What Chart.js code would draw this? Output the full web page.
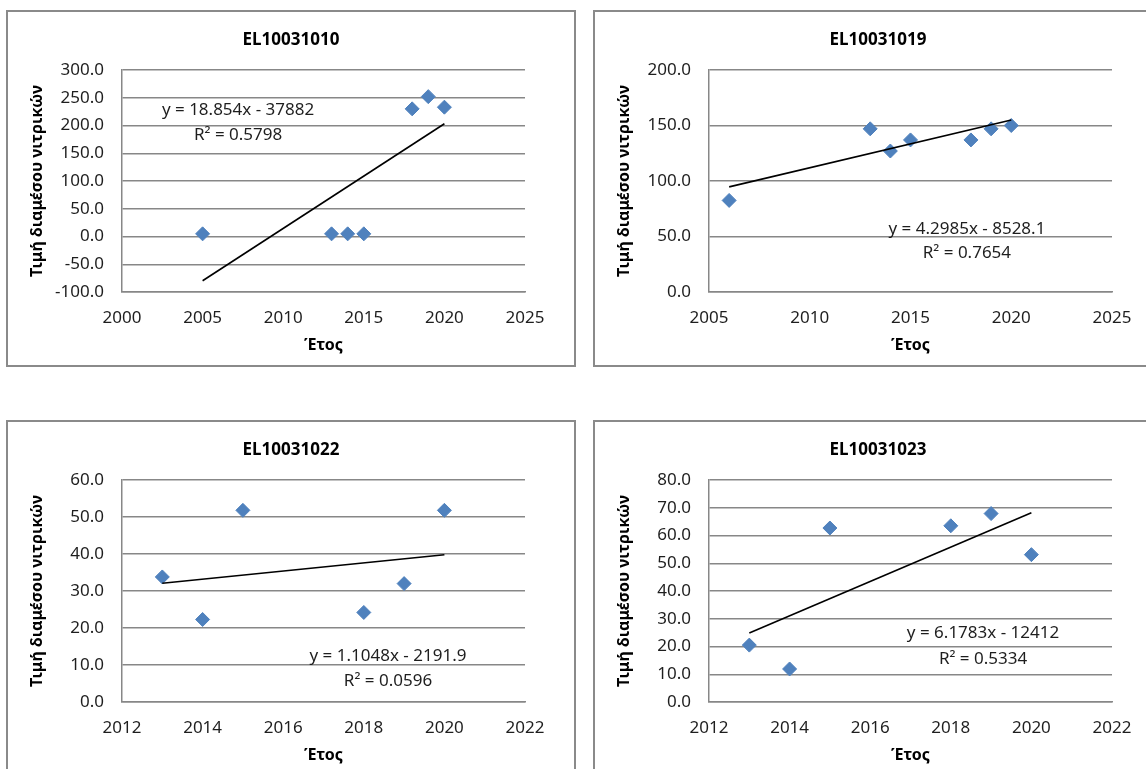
<!DOCTYPE html>
<html lang="el">
<head>
<meta charset="utf-8">
<title>Τιμή διαμέσου νιτρικών</title>
<script src="https://cdn.jsdelivr.net/npm/chart.js@4.4.1/dist/chart.umd.min.js"></script>
<style>
    html, body { margin: 0; padding: 0; background: #fff; overflow: hidden; }
    body { width: 1146px; height: 769px; position: relative; }
    .box {
        position: absolute;
        width: 570px;
        height: 357px;
        box-sizing: border-box;
        border: 2px solid #8a8a8a;
        background: #fff;
    }
    .box canvas { position: absolute; left: 0; top: 0; }
</style>
</head>
<body>
<div class="box" style="left:6px; top:10px;"><canvas id="chart-1010" width="566" height="353"></canvas></div>
<div class="box" style="left:593px; top:10px;"><canvas id="chart-1019" width="566" height="353"></canvas></div>
<div class="box" style="left:6px; top:420px;"><canvas id="chart-1022" width="566" height="353"></canvas></div>
<div class="box" style="left:593px; top:420px;"><canvas id="chart-1023" width="566" height="353"></canvas></div>

<script>
// Data
const years1010 = [2005, 2013, 2014, 2015, 2018, 2019, 2020];
const values1010 = [4.8, 4.8, 4.8, 4.8, 230, 252, 233];
const trendYears1010 = [2005, 2020];
const trendValues1010 = [-79.7, 203.1];
const xTicks1010 = [2000, 2005, 2010, 2015, 2020, 2025];
const yTicks1010 = [-100, -50, 0, 50, 100, 150, 200, 250, 300];
const equation1010 = ['y = 18.854x - 37882', 'R² = 0.5798'];

const years1019 = [2006, 2013, 2014, 2015, 2018, 2019, 2020];
const values1019 = [82.5, 147, 127, 137, 137, 147, 150];
const trendYears1019 = [2006, 2020];
const trendValues1019 = [94.7, 154.9];
const xTicks1019 = [2005, 2010, 2015, 2020, 2025];
const yTicks1019 = [0, 50, 100, 150, 200];
const equation1019 = ['y = 4.2985x - 8528.1', 'R² = 0.7654'];

const years1022 = [2013, 2014, 2015, 2018, 2019, 2020];
const values1022 = [33.8, 22.3, 51.8, 24.2, 32.0, 51.8];
const trendYears1022 = [2013, 2020];
const trendValues1022 = [32.1, 39.8];
const xTicks1022 = [2012, 2014, 2016, 2018, 2020, 2022];
const yTicks1022 = [0, 10, 20, 30, 40, 50, 60];
const equation1022 = ['y = 1.1048x - 2191.9', 'R² = 0.0596'];

const years1023 = [2013, 2014, 2015, 2018, 2019, 2020];
const values1023 = [20.5, 11.9, 62.7, 63.5, 67.9, 53.1];
const trendYears1023 = [2013, 2020];
const trendValues1023 = [24.9, 68.2];
const xTicks1023 = [2012, 2014, 2016, 2018, 2020, 2022];
const yTicks1023 = [0, 10, 20, 30, 40, 50, 60, 70, 80];
const equation1023 = ['y = 6.1783x - 12412', 'R² = 0.5334'];

const xTitle = 'Έτος';
const yTitle = 'Τιμή διαμέσου νιτρικών';

// Styling
const FONT = "'Noto Sans', 'DejaVu Sans', sans-serif";
const TEXT_COLOR = '#1e1e1e';
const GRID_COLOR = '#878787';
const MARKER_COLOR = '#4f81bd';

Chart.defaults.font.family = FONT;
Chart.defaults.color = TEXT_COLOR;

function toPoints(xs, ys) {
    return xs.map((x, i) => ({ x: x, y: ys[i] }));
}

// Chart title centred on the whole box (the plot area sits off-centre)
const boxTitle = {
    id: 'boxTitle',
    afterDraw(chart, args, opts) {
        const ctx = chart.ctx;
        ctx.save();
        ctx.font = 'bold 17px ' + FONT;
        ctx.fillStyle = '#000';
        ctx.textAlign = 'center';
        ctx.textBaseline = 'middle';
        ctx.fillText(opts.text, chart.width / 2, 28);
        ctx.restore();
    }
};

// Draws the trendline equation and R² at a place given in data units
const equationLabel = {
    id: 'equationLabel',
    afterDatasetsDraw(chart, args, opts) {
        if (!opts.lines) return;
        const ctx = chart.ctx;
        const x = chart.scales.x.getPixelForValue(opts.x);
        ctx.save();
        ctx.font = '17px ' + FONT;
        ctx.fillStyle = TEXT_COLOR;
        ctx.textAlign = 'center';
        ctx.textBaseline = 'middle';
        opts.lines.forEach((line, i) => {
            ctx.fillText(line, x, chart.scales.y.getPixelForValue(opts.y[i]));
        });
        ctx.restore();
    }
};

function makeChart(id, s) {
    const ctx = document.getElementById(id).getContext('2d');
    return new Chart(ctx, {
        type: 'scatter',
        data: {
            datasets: [{
                type: 'line',
                data: toPoints(s.trendYears, s.trendValues),
                borderColor: '#000',
                borderWidth: 1.6,
                pointRadius: 0,
                fill: false
            }, {
                data: toPoints(s.years, s.values),
                pointStyle: 'rectRot',
                pointRadius: 7,
                backgroundColor: MARKER_COLOR,
                borderColor: MARKER_COLOR,
                borderWidth: 1
            }]
        },
        options: {
            responsive: false,
            animation: false,
            devicePixelRatio: 1,
            layout: { padding: { left: 0, right: 49, top: 58, bottom: 3 } },
            plugins: {
                legend: { display: false },
                tooltip: { enabled: false },
                title: { display: false },
                boxTitle: { text: s.title },
                equationLabel: { lines: s.equation, x: s.labelX, y: s.labelY }
            },
            scales: {
                x: {
                    type: 'linear',
                    min: s.xTicks[0],
                    max: s.xTicks[s.xTicks.length - 1],
                    afterBuildTicks: scale => { scale.ticks = s.xTicks.map(v => ({ value: v })); },
                    afterFit: scale => { scale.height = 70; },
                    grid: { display: false, drawTicks: false },
                    border: { display: true, color: GRID_COLOR, width: 1.5 },
                    ticks: {
                        padding: 16,
                        maxRotation: 0,
                        autoSkip: false,
                        font: { size: 17 },
                        color: TEXT_COLOR,
                        callback: v => String(v)
                    },
                    title: {
                        display: true,
                        text: xTitle,
                        color: '#000',
                        font: { size: 16, weight: 'bold' },
                        padding: { top: 0, bottom: 7 }
                    }
                },
                y: {
                    type: 'linear',
                    min: s.yTicks[0],
                    max: s.yTicks[s.yTicks.length - 1],
                    afterBuildTicks: scale => { scale.ticks = s.yTicks.map(v => ({ value: v })); },
                    afterFit: scale => { scale.width = 114; },
                    grid: { color: GRID_COLOR, lineWidth: 1.5, drawTicks: false },
                    border: { display: true, color: GRID_COLOR, width: 1.5 },
                    ticks: {
                        padding: 18,
                        font: { size: 17 },
                        color: TEXT_COLOR,
                        callback: v => v.toFixed(1)
                    },
                    title: {
                        display: true,
                        text: yTitle,
                        color: '#000',
                        font: { size: 16, weight: 'bold' },
                        padding: { top: 20 }
                    }
                }
            }
        },
        plugins: [equationLabel, boxTitle]
    });
}

function initCharts() {
    makeChart('chart-1010', {
        title: 'EL10031010',
        years: years1010, values: values1010,
        trendYears: trendYears1010, trendValues: trendValues1010,
        xTicks: xTicks1010, yTicks: yTicks1010,
        equation: equation1010, labelX: 2007.2, labelY: [227, 183]
    });
    makeChart('chart-1019', {
        title: 'EL10031019',
        years: years1019, values: values1019,
        trendYears: trendYears1019, trendValues: trendValues1019,
        xTicks: xTicks1019, yTicks: yTicks1019,
        equation: equation1019, labelX: 2017.8, labelY: [56.8, 35.1]
    });
    makeChart('chart-1022', {
        title: 'EL10031022',
        years: years1022, values: values1022,
        trendYears: trendYears1022, trendValues: trendValues1022,
        xTicks: xTicks1022, yTicks: yTicks1022,
        equation: equation1022, labelX: 2018.6, labelY: [12.3, 5.7]
    });
    makeChart('chart-1023', {
        title: 'EL10031023',
        years: years1023, values: values1023,
        trendYears: trendYears1023, trendValues: trendValues1023,
        xTicks: xTicks1023, yTicks: yTicks1023,
        equation: equation1023, labelX: 2018.8, labelY: [24.8, 15.6]
    });
}

initCharts();
</script>
</body>
</html>
